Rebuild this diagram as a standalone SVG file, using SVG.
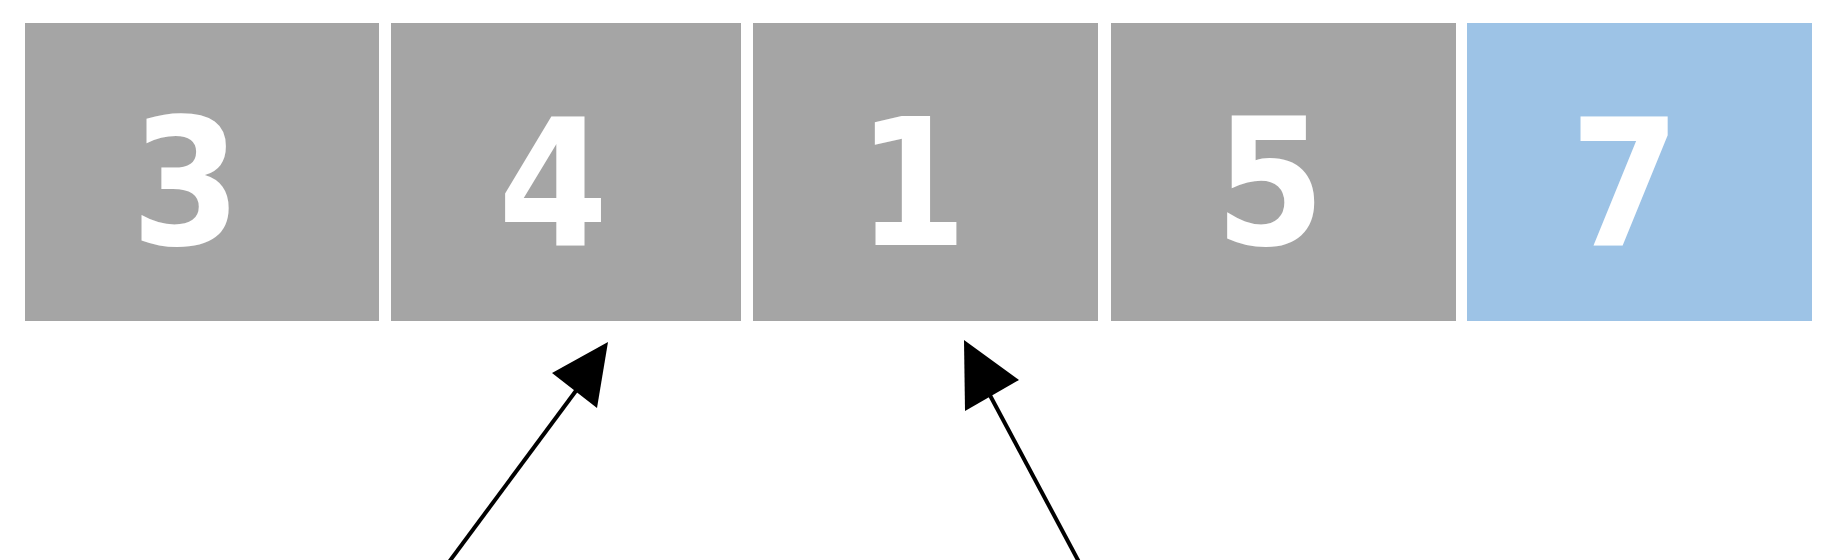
<svg xmlns="http://www.w3.org/2000/svg" width="1839" height="560" viewBox="0 0 1839 560">
<style>
.box{fill:#a5a5a5}
.hl{fill:#9dc3e6}
.num{fill:#ffffff;font-family:"DejaVu Sans Condensed","DejaVu Sans",sans-serif;font-weight:bold;font-size:176px;text-anchor:middle}
.arr{stroke:#000;stroke-width:4;fill:none}
</style>
<rect width="1839" height="560" fill="#ffffff"/>
<g id="n1"><rect class="box" x="25" y="23" width="354" height="298"/><text class="num" x="186" y="245">3</text></g>
<g id="n2"><rect class="box" x="391" y="23" width="350" height="298"/><text class="num" x="553" y="245">4</text></g>
<g id="n3"><rect class="box" x="753" y="23" width="345" height="298"/><text class="num" x="912" y="245">1</text></g>
<g id="n4"><rect class="box" x="1111" y="23" width="345" height="298"/><text class="num" x="1270" y="245">5</text></g>
<g id="n5"><rect class="hl" x="1467" y="23" width="345" height="298"/><text class="num" x="1625" y="245">7</text></g>
<g id="connectors">
<line class="arr" x1="449" y1="562" x2="581" y2="384"/>
<polygon points="608,342 552,373 597,408" fill="#000"/>
<line class="arr" x1="1079" y1="562" x2="985" y2="386"/>
<polygon points="964,340 1019,380 965,411" fill="#000"/>
</g>
</svg>
